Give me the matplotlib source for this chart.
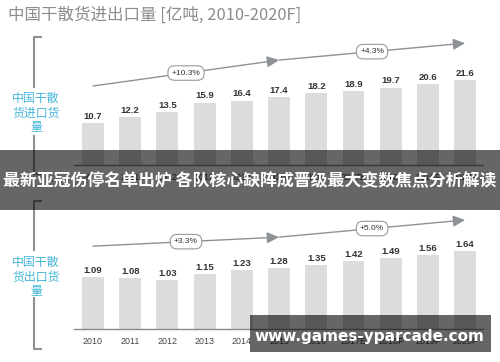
import matplotlib
matplotlib.use("Agg")
import matplotlib.pyplot as plt
from matplotlib.patches import Rectangle
from matplotlib.lines import Line2D

years = ["2010", "2011", "2012", "2013", "2014", "2015", "2016",
         "2017E", "2018F", "2019F", "2020F"]
import_vals = [10.7, 12.2, 13.5, 15.9, 16.4, 17.4, 18.2, 18.9, 19.7, 20.6, 21.6]
export_vals = [1.09, 1.08, 1.03, 1.15, 1.23, 1.28, 1.35, 1.42, 1.49, 1.56, 1.64]
import_growth = ["+10.3%", "+4.3%"]
export_growth = ["+3.3%", "+5.0%"]
import_fmt = "{:.1f}"
export_fmt = "{:.2f}"

W, H = 500, 362
CJK = ["Noto Sans CJK SC", "DejaVu Sans"]
LAT = ["Liberation Sans", "DejaVu Sans"]
BAR = "#dcdcdf"
GREY = "#8e9196"
CYAN = "#45b6d8"


def fx(x):
    return x / W


def fy(y):
    return 1 - y / H


fig = plt.figure(figsize=(5, 3.62), dpi=100)


def panel(top, base, vals, fmt, ymax, arrow_y, growth):
    ax = fig.add_axes([fx(74), fy(base), (483 - 74) / W, (base - top) / H])
    x = range(len(vals))
    ax.bar(x, vals, width=0.59, color=BAR, zorder=1)
    for i, v in zip(x, vals):
        ax.annotate(fmt.format(v), (i, v), xytext=(0, 1.5), textcoords="offset points",
                    ha="center", va="bottom", fontsize=6.8, fontweight="bold",
                    color="#333333", family=LAT)
    ax.set_xlim(-0.51, 10.48)
    ax.set_ylim(0, ymax)
    for s in ["top", "left", "right"]:
        ax.spines[s].set_visible(False)
    ax.spines["bottom"].set_color("#8a8a8a")
    ax.spines["bottom"].set_linewidth(1.0)
    ax.set_yticks([])
    ax.set_xticks(list(x))
    ax.set_xticklabels(years, fontsize=6.4, color="#444444", family=LAT)
    ax.tick_params(axis="x", length=0, pad=5.5)
    ax.patch.set_alpha(0)
    # growth arrows
    pts = [(0, arrow_y[0]), (5, arrow_y[1]), (10, arrow_y[2])]
    for a, b in [(pts[0], pts[1]), (pts[1], pts[2])]:
        ax.annotate("", xy=b, xytext=a,
                    arrowprops=dict(arrowstyle="-|>,head_length=0.6,head_width=0.28",
                                    color=GREY, lw=1.0, shrinkA=0, shrinkB=0,
                                    mutation_scale=12))
    for xi, (a, b), g in zip([2.5, 7.5], [(pts[0], pts[1]), (pts[1], pts[2])], growth):
        ax.text(xi, (a[1] + b[1]) / 2, g, ha="center", va="center", fontsize=6,
                color="#333333", family=LAT, zorder=5,
                bbox=dict(boxstyle="round,pad=0.45,rounding_size=0.8",
                          fc="white", ec="#9a9a9a", lw=0.8))
    return ax


panel(30, 165, import_vals, import_fmt, (165 - 30) / 3.93,
      [20.1, 26.7, 31.0], import_growth)
panel(195, 329, export_vals, export_fmt, (329 - 195) / 47.6,
      [1.74, 1.93, 2.29], export_growth)

# title
fig.text(fx(8), fy(15), "中国干散货进出口量 [亿吨, 2010-2020F]", ha="left", va="center",
         fontsize=11.9, color="#8c8c8c", family=CJK)


# brackets
def seg(xs, ys):
    fig.add_artist(Line2D([fx(v) for v in xs], [fy(v) for v in ys],
                          color=GREY, lw=1.5, solid_capstyle="butt"))


seg([42, 34, 34], [37, 37, 88])
seg([34, 34, 42], [135, 174, 174])
seg([42, 34, 34], [201, 201, 251])
seg([34, 34, 42], [297, 349, 349])

fig.text(fx(36), fy(113), "中国干散\n货进口货\n量", ha="center", va="center",
         fontsize=8.6, color=CYAN, family=CJK, linespacing=1.15)
fig.text(fx(36), fy(277), "中国干散\n货出口货\n量", ha="center", va="center",
         fontsize=8.6, color=CYAN, family=CJK, linespacing=1.15)

# overlay banner
fig.add_artist(Rectangle((0, fy(210)), 1, 60 / H, transform=fig.transFigure,
                         facecolor="black", alpha=0.6, lw=0, zorder=10))
fig.text(0.499, fy(181), "最新亚冠伤停名单出炉 各队核心缺阵成晋级最大变数焦点分析解读",
         ha="center", va="center", fontsize=12.2, fontweight="bold", color="white",
         family=CJK, zorder=11)

# watermark
fig.add_artist(Rectangle((fx(250), fy(352)), 241 / W, 37 / H, transform=fig.transFigure,
                         facecolor="black", alpha=0.6, lw=0, zorder=10))
fig.text(fx(369), fy(336), "www.games-yparcade.com", ha="center", va="center",
         fontsize=11, fontweight="bold", color="white", family="DejaVu Sans", zorder=11)

fig.savefig("out.png", dpi=100)
